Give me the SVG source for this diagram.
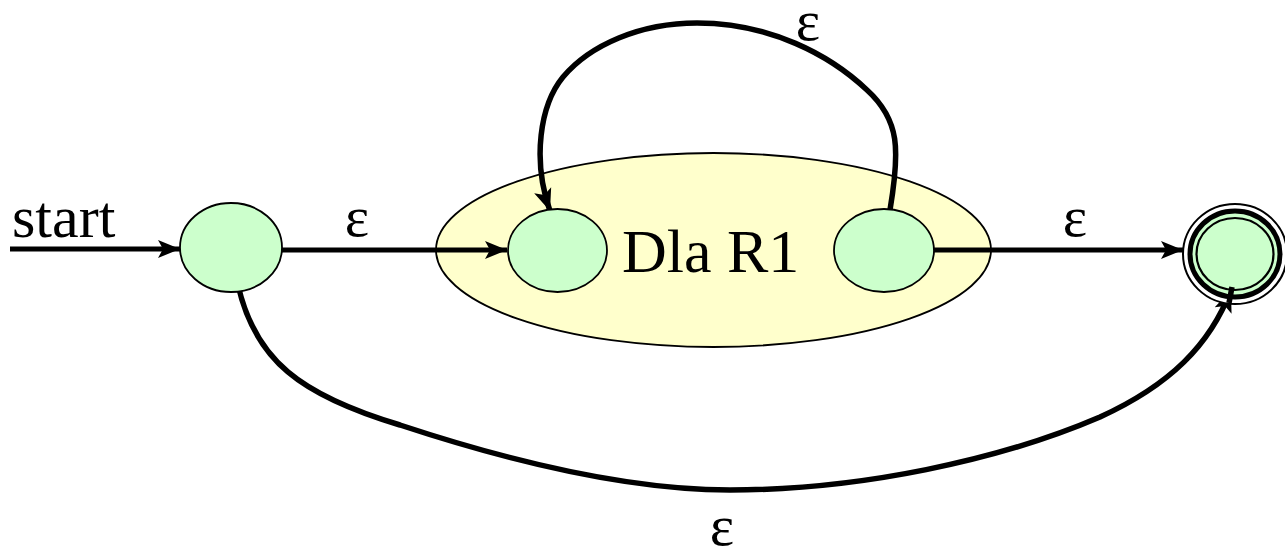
<svg xmlns="http://www.w3.org/2000/svg" width="1285" height="552" viewBox="0 0 1285 552">
  <style>
    .state { fill: #CCFFCC; stroke: #000; stroke-width: 1.8; }
    .conn { fill: none; stroke: #000; stroke-width: 5; }
    .curve { fill: none; stroke: #000; stroke-width: 5.5; }
    .serif { font-family: "Liberation Serif", "DejaVu Serif", "Times New Roman", Times, serif; fill: #000; }
  </style>
  <defs>
    <marker id="arrow" markerUnits="userSpaceOnUse" markerWidth="24" markerHeight="20" refX="22" refY="9" orient="auto" viewBox="0 0 24 18">
      <path d="M0,0 L22,9 L0,18 L5,9 Z" fill="#000"/>
    </marker>
  </defs>
  <rect width="1285" height="552" fill="#fff"/>

  <g id="group-R1">
    <ellipse cx="713.5" cy="250" rx="277.5" ry="97" fill="#FFFFCC" stroke="#000" stroke-width="1.8"/>
    <text class="serif" x="622" y="272" font-size="62" font-family="Liberation Serif">Dla R1</text>
  </g>

  <g id="start-label">
    <text class="serif" x="12" y="237" font-size="60" font-family="Liberation Serif">start</text>
  </g>

  <g id="connectors">
    <line class="conn" x1="10" y1="249" x2="180" y2="249" marker-end="url(#arrow)"/>
    <line class="conn" x1="282" y1="250" x2="507" y2="250" marker-end="url(#arrow)"/>
    <line class="conn" x1="934" y1="250" x2="1183" y2="250" marker-end="url(#arrow)"/>
    <path class="curve" d="M890,210 C900,150 900,120 867,90 C830,55 770,23 697,23 C640,23 590,45 563,77 C540,105 532,160 550,211" marker-end="url(#arrow)"/>
    <path class="curve" d="M238,285 C255,360 300,395 400,425 C500,458 620,490 730,490 C860,490 1000,460 1100,417 C1170,385 1210,345 1231,290" marker-end="url(#arrow)"/>
    <g class="serif" font-size="58" text-anchor="middle">
      <text x="357" y="236">ε</text>
      <text x="1075" y="236">ε</text>
      <text x="808" y="40">ε</text>
      <text x="722" y="545">ε</text>
    </g>
  </g>

  <g id="state-start">
    <ellipse class="state" cx="231" cy="247.5" rx="51" ry="44.5"/>
  </g>
  <g id="state-r1-in">
    <ellipse class="state" cx="557.5" cy="250.5" rx="49.5" ry="41.5"/>
  </g>
  <g id="state-r1-out">
    <ellipse class="state" cx="884" cy="250.5" rx="50" ry="41.5"/>
  </g>
  <g id="state-final">
    <ellipse cx="1235" cy="254" rx="52" ry="50" fill="#fff" stroke="#000" stroke-width="2"/>
    <ellipse cx="1235" cy="254" rx="45" ry="43" fill="#CCFFCC" stroke="#000" stroke-width="5"/>
    <ellipse cx="1235" cy="254" rx="38.5" ry="36" fill="none" stroke="#000" stroke-width="2.2"/>
  </g>
  <line class="curve" x1="1229" y1="303" x2="1232" y2="287"/>
</svg>
